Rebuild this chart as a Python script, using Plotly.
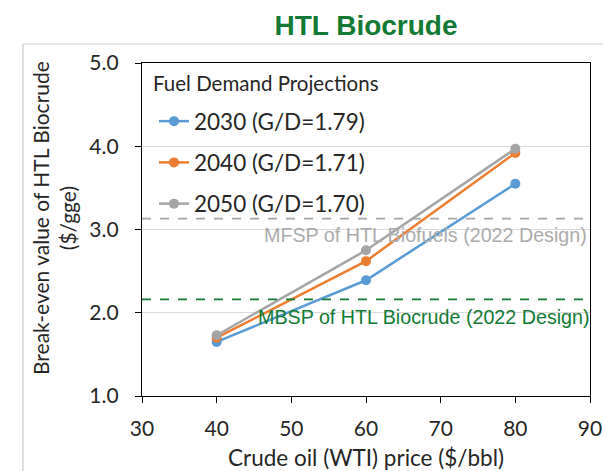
import plotly.graph_objects as go

crude_price = [40, 60, 80]
series_names = ["2030 (G/D=1.79)", "2040 (G/D=1.71)", "2050 (G/D=1.70)"]
values_2030 = [1.65, 2.39, 3.55]
values_2040 = [1.70, 2.62, 3.92]
values_2050 = [1.73, 2.75, 3.97]
colors = ["#5B9BD5", "#ED7D31", "#A5A5A5"]
mfsp_value = 3.13
mbsp_value = 2.16
x_ticks = [30, 40, 50, 60, 70, 80, 90]
y_ticks = [1.0, 2.0, 3.0, 4.0, 5.0]

FONT = "Lato"
TXT = "#262626"
GREEN = "#137A35"

fig = go.Figure()
for i, (name, vals) in enumerate(zip(series_names, [values_2030, values_2040, values_2050])):
    fig.add_trace(go.Scatter(
        x=crude_price, y=vals, name=name, mode="lines+markers",
        line=dict(color=colors[i], width=2.5),
        marker=dict(color=colors[i], size=10),
        legendgroup=str(i),
    ))

W, H = 603, 471
L, R, T, B = 142, 13, 63, 75
pw = W - L - R
ph = H - T - B

def px_x(px):
    return (px - L) / pw

def px_y(py):
    return (H - B - py) / ph

shapes = [
    dict(type="line", xref="paper", yref="paper", x0=px_x(23), x1=px_x(23),
         y0=px_y(44), y1=px_y(480), line=dict(color="#CCCCCC", width=1.2)),
    dict(type="line", xref="paper", yref="paper", x0=px_x(23), x1=px_x(610),
         y0=px_y(44), y1=px_y(44), line=dict(color="#CCCCCC", width=1.2)),
    dict(type="line", xref="paper", yref="y", x0=0, x1=1, y0=mfsp_value, y1=mfsp_value,
         line=dict(color="#A5A5A5", width=1.8, dash="dash")),
    dict(type="line", xref="paper", yref="y", x0=0, x1=1, y0=mbsp_value, y1=mbsp_value,
         line=dict(color=GREEN, width=1.8, dash="dash")),
]

annotations = [
    dict(text="MFSP of HTL Biofuels (2022 Design)", xref="paper", yref="y",
         x=px_x(589), y=mfsp_value, xanchor="right", yanchor="middle", yshift=-16,
         showarrow=False, font=dict(family="Liberation Sans", size=19.7, color="#ABABAB")),
    dict(text="MBSP of HTL Biocrude (2022 Design)", xref="paper", yref="y",
         x=px_x(592), y=mbsp_value, xanchor="right", yanchor="middle", yshift=-18,
         showarrow=False, font=dict(family="Liberation Sans", size=19.7, color=GREEN)),
    dict(text="Fuel Demand Projections", xref="paper", yref="paper",
         x=px_x(151), y=px_y(83), xanchor="left", yanchor="middle",
         showarrow=False, font=dict(family=FONT, size=20.5, color=TXT)),
    dict(text="Break-even value of HTL Biocrude<br>($/gge)", xref="paper", yref="paper",
         x=px_x(54), y=px_y(218), xanchor="center", yanchor="middle", textangle=-90,
         showarrow=False, font=dict(family=FONT, size=21, color=TXT)),
]

fig.update_layout(
    width=W, height=H,
    margin=dict(l=L, r=R, t=T, b=B, autoexpand=False),
    paper_bgcolor="white", plot_bgcolor="white",
    title=dict(text="<b>HTL Biocrude</b>", x=366 / W, xanchor="center",
               y=1 - 25 / H, yanchor="middle",
               font=dict(family="Liberation Sans", size=28, color=GREEN)),
    font=dict(family=FONT, size=20, color=TXT),
    showlegend=True,
    legend=dict(x=px_x(154), y=px_y(100), xanchor="left", yanchor="top",
                bgcolor="rgba(255,255,255,0)", tracegroupgap=9,
                font=dict(family=FONT, size=22.5, color=TXT)),
    shapes=shapes, annotations=annotations,
    xaxis=dict(range=[30, 90], tickvals=x_ticks, ticks="outside", ticklen=6, tickcolor="black",
               showline=True, linecolor="black", linewidth=1.4, mirror=True, showgrid=False,
               zeroline=False, tickfont=dict(size=21), ticklabelstandoff=8, automargin=False,
               title=dict(text="Crude oil (WTI) price ($/bbl)", font=dict(size=22.5), standoff=12)),
    yaxis=dict(range=[1, 5], tickvals=y_ticks, tickformat=".1f", ticks="outside", ticklen=6,
               tickcolor="black", showline=True, linecolor="black", linewidth=1.4, mirror=True,
               showgrid=True, gridcolor="#D9D9D9", gridwidth=1, zeroline=False,
               tickfont=dict(size=21), ticklabelstandoff=12, automargin=False),
)

fig.write_html("out.html", config={"displayModeBar": False},
               post_script="document.body.style.margin='0px';")
